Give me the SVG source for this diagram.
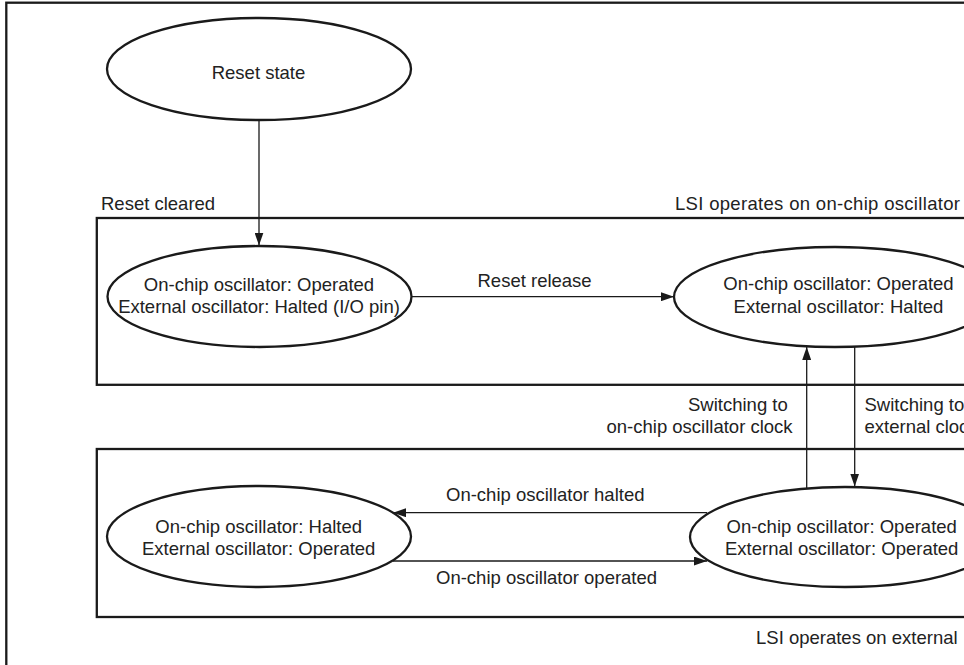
<svg xmlns="http://www.w3.org/2000/svg" width="964" height="665" viewBox="0 0 964 665">
  <style>
    .frame { fill: none; stroke: #1a1a1a; stroke-width: 2.3; }
    .state { fill: #fff; stroke: #1a1a1a; stroke-width: 2.3; }
    .conn { fill: none; stroke: #1a1a1a; stroke-width: 1.3; }
    text { font-family: "Liberation Sans", Arial, sans-serif; font-size: 18.5px; fill: #222; }
    .mid { text-anchor: middle; }
  </style>
  <defs>
    <marker id="arrow" markerUnits="userSpaceOnUse" markerWidth="13" markerHeight="9" refX="13" refY="4.5" orient="auto">
      <path d="M0,0 L13,4.5 L0,9 Z" fill="#1a1a1a"/>
    </marker>
  </defs>

  <rect width="964" height="665" fill="#fff"/>

  <!-- outer frame, continues past the right and bottom edges -->
  <rect class="frame" x="6.3" y="2.7" width="1000" height="720"/>

  <!-- mode regions -->
  <g id="region-onchip">
    <rect class="frame" x="96.8" y="218" width="900" height="166.8"/>
    <text x="101" y="210">Reset cleared</text>
    <text x="675" y="210" textLength="285" lengthAdjust="spacing">LSI operates on on-chip oscillator</text>
  </g>
  <g id="region-external">
    <rect class="frame" x="96.8" y="449" width="900" height="168"/>
    <text x="756" y="644">LSI operates on external</text>
  </g>

  <!-- transitions -->
  <g id="connectors">
    <line class="conn" x1="259" y1="120" x2="259" y2="245.5" marker-end="url(#arrow)"/>
    <line class="conn" x1="412" y1="296.7" x2="674" y2="296.7" marker-end="url(#arrow)"/>
    <line class="conn" x1="806.7" y1="488.5" x2="806.7" y2="347" marker-end="url(#arrow)"/>
    <line class="conn" x1="854.7" y1="347" x2="854.7" y2="486.5" marker-end="url(#arrow)"/>
    <line class="conn" x1="707" y1="512.7" x2="393" y2="512.7" marker-end="url(#arrow)"/>
    <line class="conn" x1="393" y1="561" x2="707" y2="561" marker-end="url(#arrow)"/>
    <text x="477.5" y="287">Reset release</text>
    <text x="688" y="411">Switching to</text>
    <text x="606.5" y="433">on-chip oscillator clock</text>
    <text x="864.5" y="411">Switching to</text>
    <text x="864.5" y="433">external clock</text>
    <text x="446" y="501">On-chip oscillator halted</text>
    <text x="436" y="583.5">On-chip oscillator operated</text>
  </g>

  <!-- states -->
  <g id="reset-state">
    <ellipse class="state" cx="259" cy="69" rx="152" ry="51"/>
    <text class="mid" x="258.5" y="79">Reset state</text>
  </g>
  <g id="state-after-reset">
    <ellipse class="state" cx="259.5" cy="296.5" rx="152" ry="50.5"/>
    <text class="mid" x="259" y="290.5">On-chip oscillator: Operated</text>
    <text class="mid" x="259" y="312.5">External oscillator: Halted (I/O pin)</text>
  </g>
  <g id="state-onchip">
    <ellipse class="state" cx="835" cy="297" rx="161" ry="50"/>
    <text class="mid" x="838.5" y="290">On-chip oscillator: Operated</text>
    <text class="mid" x="838.5" y="312.5">External oscillator: Halted</text>
  </g>
  <g id="state-external-only">
    <ellipse class="state" cx="259" cy="536.5" rx="152" ry="50.5"/>
    <text class="mid" x="258.7" y="532.5">On-chip oscillator: Halted</text>
    <text class="mid" x="258.7" y="554.5">External oscillator: Operated</text>
  </g>
  <g id="state-both">
    <ellipse class="state" cx="845" cy="537" rx="155" ry="50"/>
    <text class="mid" x="841.7" y="532.5">On-chip oscillator: Operated</text>
    <text class="mid" x="841.7" y="554.5">External oscillator: Operated</text>
  </g>
</svg>
